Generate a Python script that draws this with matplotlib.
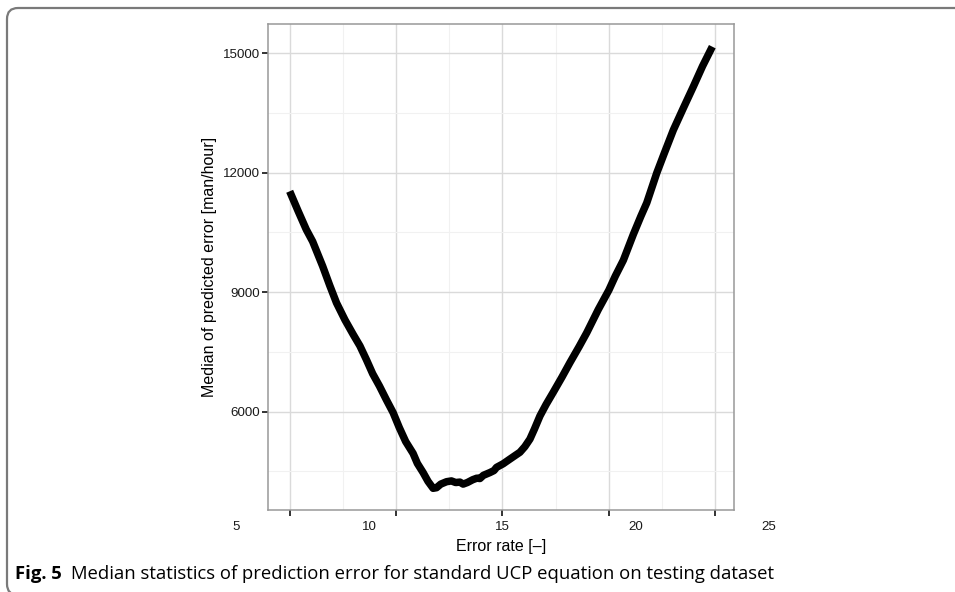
import numpy as np
import matplotlib
matplotlib.use('Agg')
import matplotlib.pyplot as plt
from matplotlib.patches import FancyBboxPatch
from matplotlib.transforms import blended_transform_factory

# curve
error_rate = [5.0, 5.4, 5.78, 6.08, 6.55, 6.88, 7.2, 7.6, 7.98, 8.3, 8.6, 8.9, 9.22, 9.55,
              9.86, 10.15, 10.45, 10.8, 11.0, 11.27, 11.5, 11.74, 11.9, 12.1, 12.37, 12.6,
              12.8, 13.0, 13.15, 13.35, 13.6, 13.8, 13.94, 14.1, 14.41, 14.6, 14.72, 15.03,
              15.3, 15.6, 15.82, 16.05, 16.29, 16.5, 16.76, 17.05, 17.38, 17.8, 18.17, 18.6,
              18.96, 19.5, 20.0, 20.3, 20.68, 21.15, 21.5, 21.78, 22.25, 22.6, 23.03, 23.5,
              23.97, 24.4, 24.86]
median_err = [11530, 11030, 10570, 10270, 9650, 9170, 8730, 8300, 7940, 7650, 7310, 6950,
              6640, 6290, 5975, 5600, 5250, 4950, 4700, 4470, 4250, 4075, 4090, 4180, 4240,
              4260, 4220, 4230, 4180, 4220, 4290, 4330, 4320, 4400, 4470, 4520, 4600, 4690,
              4790, 4900, 4980, 5120, 5310, 5560, 5890, 6180, 6480, 6870, 7230, 7630, 7980,
              8560, 9050, 9400, 9800, 10450, 10900, 11240, 11990, 12480, 13070, 13620, 14160,
              14670, 15160]

x_ticks = [5, 10, 15, 20, 25]
x_tick_labels = ['5', '10', '15', '20', '25']
y_ticks = [6000, 9000, 12000, 15000]

font = ['Liberation Sans', 'DejaVu Sans']

fig = plt.figure(figsize=(9.55, 5.92), dpi=100)
ax = fig.add_axes([0.2806, 0.1385, 0.4880, 0.8210])

ax.plot(error_rate, median_err, color='black', linewidth=5.4, solid_capstyle='butt',
        solid_joinstyle='round', zorder=3)

ax.set_xlim(3.98, 25.88)
ax.set_ylim(3530, 15730)

ax.set_xticks(x_ticks)
ax.set_xticklabels([''] * len(x_ticks))
ax.set_xticks([7.5, 12.5, 17.5, 22.5], minor=True)
ax.set_yticks(y_ticks)
ax.set_yticklabels([str(v) for v in y_ticks], fontfamily=font, fontsize=9.6, color='#1a1a1a')
ax.set_yticks([4500, 7500, 10500, 13500], minor=True)

ax.grid(which='major', color='#dadada', linewidth=1.0)
ax.grid(which='minor', color='#f1f1f1', linewidth=0.8)
ax.set_axisbelow(True)
ax.tick_params(which='major', length=4, width=1.4, color='#333333', pad=2)
ax.tick_params(which='minor', length=0)
for sp in ax.spines.values():
    sp.set_color('#999999')
    sp.set_linewidth(1.1)

# x tick labels sit spread out from their tick marks in the original
trans = blended_transform_factory(ax.transData, ax.transAxes)
for v, lab in zip(x_ticks, x_tick_labels):
    ax.text(15 + (v - 15) * 1.25, -0.034, lab, transform=trans, ha='center', va='center',
            fontfamily=font, fontsize=9.6, color='#1a1a1a')

ax.set_xlabel('Error rate [\u2013]', fontfamily=font, fontsize=11.5, labelpad=15)
ax.set_ylabel('Median of predicted error [man/hour]', fontfamily=font, fontsize=11.5,
              labelpad=4)

# outer frame of the figure panel
frame = FancyBboxPatch((0.07, -0.03), 9.8, 5.87,
                       boxstyle='round,pad=0,rounding_size=0.11',
                       transform=fig.dpi_scale_trans, facecolor='none',
                       edgecolor='#7a7a7a', linewidth=1.6, clip_on=False)
fig.patches.append(frame)

cap_font = ['Open Sans', 'DejaVu Sans']
t1 = fig.text(15 / 955, 1 - 579 / 592, 'Fig. 5', fontfamily=cap_font, fontweight='bold',
              fontsize=13.3, va='baseline', ha='left')
ax.annotate('Median statistics of prediction error for standard UCP equation on testing dataset',
            xy=(1, 0), xycoords=t1, xytext=(7, 0), textcoords='offset points',
            fontfamily=cap_font, fontsize=13.3, va='bottom', ha='left',
            annotation_clip=False)

fig.savefig('out.png', dpi=100)
